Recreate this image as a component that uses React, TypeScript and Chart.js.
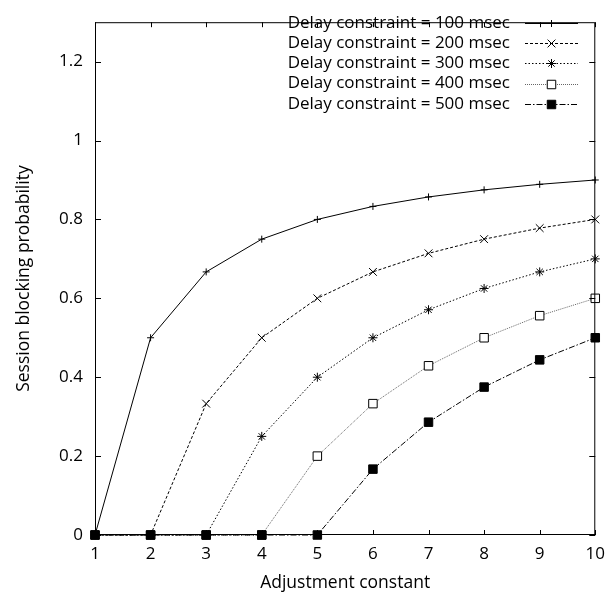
import React, { useEffect, useRef } from 'react';
import { Chart, registerables } from 'chart.js';

Chart.register(...registerables);

// ---- data ----
const xValues = [1, 2, 3, 4, 5, 6, 7, 8, 9, 10];
const seriesLabels = [
  'Delay constraint = 100 msec',
  'Delay constraint = 200 msec',
  'Delay constraint = 300 msec',
  'Delay constraint = 400 msec',
  'Delay constraint = 500 msec',
];
const delay100 = [0, 0.5, 0.667, 0.75, 0.8, 0.833, 0.857, 0.875, 0.889, 0.9];
const delay200 = [0, 0, 0.333, 0.5, 0.6, 0.667, 0.714, 0.75, 0.778, 0.8];
const delay300 = [0, 0, 0, 0.25, 0.4, 0.5, 0.571, 0.625, 0.667, 0.7];
const delay400 = [0, 0, 0, 0, 0.2, 0.333, 0.429, 0.5, 0.556, 0.6];
const delay500 = [0, 0, 0, 0, 0, 0.167, 0.286, 0.375, 0.444, 0.5];
const yTickValues = [0, 0.2, 0.4, 0.6, 0.8, 1, 1.2];
const xTitle = 'Adjustment constant';
const yTitle = 'Session blocking probability';

const allSeries = [delay100, delay200, delay300, delay400, delay500];

// ---- styles ----
const FONT = '"Open Sans", "Noto Sans", sans-serif';
const styles = [
  { dash: [] as number[], color: '#000', point: 'cross', r: 3.5, fill: '#000' },
  { dash: [3, 2], color: '#000', point: 'crossRot', r: 5.5, fill: '#000' },
  { dash: [1.5, 2], color: '#000', point: 'star', r: 4.5, fill: '#000' },
  { dash: [1, 1], color: '#666', point: 'rect', r: 6, fill: '#fff' },
  { dash: [6, 2, 1.5, 2], color: '#000', point: 'rect', r: 6, fill: '#000' },
];

function drawMarker(ctx: CanvasRenderingContext2D, style: string, x: number, y: number, r: number, fill: string) {
  ctx.save();
  ctx.setLineDash([]);
  ctx.strokeStyle = '#000';
  ctx.lineWidth = 1;
  ctx.beginPath();
  if (style === 'cross' || style === 'star') {
    ctx.moveTo(x, y - r); ctx.lineTo(x, y + r);
    ctx.moveTo(x - r, y); ctx.lineTo(x + r, y);
  }
  if (style === 'crossRot' || style === 'star') {
    const o = r * Math.SQRT1_2;
    ctx.moveTo(x - o, y - o); ctx.lineTo(x + o, y + o);
    ctx.moveTo(x - o, y + o); ctx.lineTo(x + o, y - o);
  }
  if (style === 'rect') {
    const s = r * Math.SQRT1_2;
    ctx.rect(x - s, y - s, 2 * s, 2 * s);
    ctx.fillStyle = fill;
    ctx.fill();
  }
  ctx.stroke();
  ctx.restore();
}

const framePlugin = {
  id: 'frameTicks',
  afterDatasetsDraw(chart: any) {
    const { ctx, chartArea } = chart;
    const { left, right, top, bottom } = chartArea;
    const xs = chart.scales.x;
    const ys = chart.scales.y;
    ctx.save();
    ctx.strokeStyle = '#000';
    ctx.lineWidth = 1;
    ctx.setLineDash([]);
    ctx.strokeRect(left + 0.5, top + 0.5, right - left - 1, bottom - top - 1);
    ctx.beginPath();
    xValues.forEach((v) => {
      const px = Math.round(xs.getPixelForValue(v)) + 0.5;
      ctx.moveTo(px, bottom); ctx.lineTo(px, bottom - 5);
      ctx.moveTo(px, top); ctx.lineTo(px, top + 5);
    });
    yTickValues.forEach((v) => {
      const py = Math.round(ys.getPixelForValue(v)) + 0.5;
      ctx.moveTo(left, py); ctx.lineTo(left + 6, py);
      ctx.moveTo(right, py); ctx.lineTo(right - 6, py);
    });
    ctx.stroke();

    // legend
    ctx.font = `17px ${FONT}`;
    ctx.fillStyle = '#000';
    ctx.textAlign = 'right';
    ctx.textBaseline = 'middle';
    seriesLabels.forEach((lab, i) => {
      const y = 23 + i * 20.2;
      ctx.fillText(lab, 510, y);
      const st = styles[i];
      ctx.save();
      ctx.strokeStyle = st.color;
      ctx.setLineDash(st.dash);
      ctx.beginPath();
      ctx.moveTo(525, Math.round(y) + 0.5);
      ctx.lineTo(578, Math.round(y) + 0.5);
      ctx.stroke();
      ctx.restore();
      drawMarker(ctx, st.point, 551.5, Math.round(y) + 0.5, st.r, st.fill);
    });
    ctx.restore();
  },
};

export default function App() {
  const ref = useRef<HTMLCanvasElement | null>(null);
  useEffect(() => {
    if (!ref.current) return;
    const datasets = allSeries.map((vals, i) => ({
      label: seriesLabels[i],
      data: vals.map((v, j) => ({ x: xValues[j], y: v })),
      borderColor: styles[i].color,
      borderWidth: 1,
      borderDash: styles[i].dash,
      pointStyle: styles[i].point,
      pointRadius: styles[i].r,
      pointBorderColor: '#000',
      pointBackgroundColor: styles[i].fill,
      pointBorderWidth: 1,
      tension: 0,
      fill: false,
      clip: false,
      order: 4 - i,
    }));
    const chart = new Chart(ref.current, {
      type: 'line',
      data: { datasets },
      options: {
        responsive: false,
        animation: false,
        devicePixelRatio: 1,
        layout: { padding: { left: 0, right: 13, top: 7, bottom: 0 } },
        plugins: { legend: { display: false }, tooltip: { enabled: false } },
        scales: {
          x: {
            type: 'linear',
            min: 1,
            max: 10,
            grid: { display: false, drawTicks: false },
            border: { display: false },
            afterFit: (s: any) => { s.height = 59; },
            afterBuildTicks: (s: any) => { s.ticks = xValues.map((v) => ({ value: v })); },
            ticks: {
              color: '#000',
              font: { family: FONT, size: 17 },
              padding: 9,
              maxRotation: 0,
              autoSkip: false,
              callback: (v: any) => String(v),
            },
            title: {
              display: true,
              text: xTitle,
              color: '#000',
              font: { family: FONT, size: 17.5 },
              padding: { top: 0.5, bottom: 0.5 },
            },
          },
          y: {
            type: 'linear',
            min: 0,
            max: 1.3,
            grid: { display: false, drawTicks: false },
            border: { display: false },
            afterFit: (s: any) => { s.width = 95; },
            afterBuildTicks: (s: any) => { s.ticks = yTickValues.map((v) => ({ value: v })); },
            ticks: {
              color: '#000',
              font: { family: FONT, size: 17 },
              padding: 12,
              autoSkip: false,
              callback: (v: any) => String(Number(Number(v).toFixed(1))),
            },
            title: {
              display: true,
              text: yTitle,
              color: '#000',
              font: { family: FONT, size: 17.5 },
              padding: { top: 13.5, bottom: 13.5 },
            },
          },
        },
      },
      plugins: [framePlugin],
    });
    return () => chart.destroy();
  }, []);
  return (
    <div style={{ position: 'absolute', left: 0, top: 0, width: 614, height: 594, background: '#fff' }}>
      <canvas ref={ref} width={614} height={594} style={{ display: 'block' }} />
    </div>
  );
}
